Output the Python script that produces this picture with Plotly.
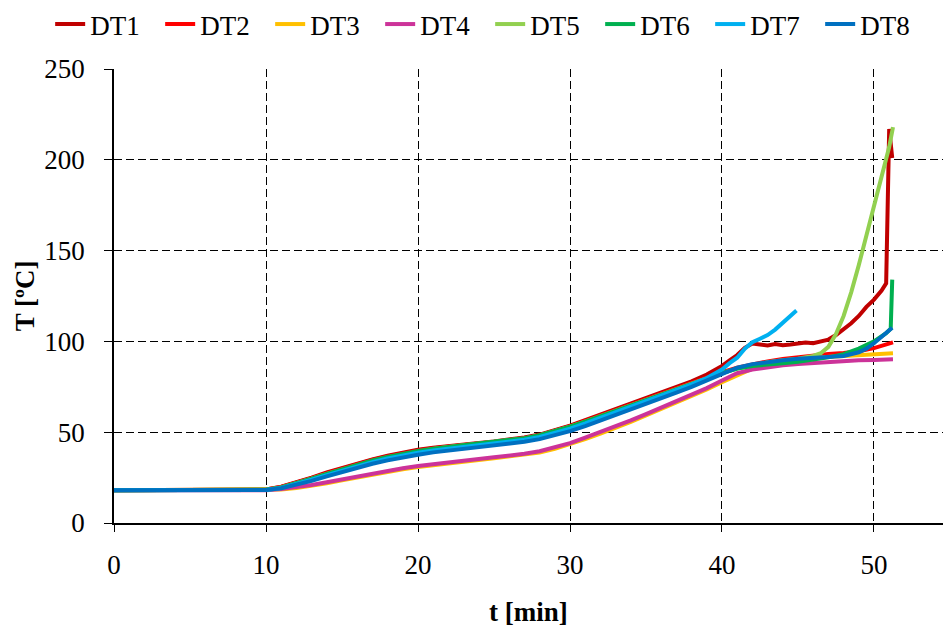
import plotly.graph_objects as go

# ---- data (t in min, T in degC) ----
t_main = [0, 5, 10, 11, 12, 13, 14, 15, 16, 17, 18, 19, 20, 21, 22, 23, 24, 25,
          26, 27, 28, 29, 30, 31, 32, 33, 34, 35, 36, 37, 38, 39, 40]

dt1_t = t_main + [40.5, 41, 41.5, 42, 42.5, 43, 43.5, 44, 44.5, 45, 45.5, 46, 46.5,
                  47, 47.5, 48, 48.5, 49, 49.5, 50, 50.5, 50.8, 51.0, 51.2]
dt1_v = [18, 18, 18.5, 20, 22.3, 25, 27.8, 30.3, 32.8, 35, 37, 38.7, 40.3, 41.5, 42.5,
         43.3, 44.1, 44.9, 45.9, 47.1, 48.7, 51, 53.6, 56.6, 59.6, 62.6, 65.7, 68.7,
         71.7, 74.8, 78, 81.8, 86.5,
         89.5, 92.5, 96.5, 98.8, 98.3, 97.8, 98.5, 97.9, 98.3, 98.6, 99.4, 99, 99.8,
         101, 103.5, 106.5, 110, 114, 119, 123, 128, 132, 217, 201]

dt2_t = t_main + [41, 42, 43, 44, 45, 46, 47, 48, 49, 50, 50.7, 51.25]
dt2_v = [18, 18, 18.4, 19.8, 22, 24.7, 27.5, 30, 32.5, 34.7, 36.7, 38.4, 40, 41.2, 42.2,
         43, 43.8, 44.6, 45.6, 46.8, 48.4, 50.7, 53.3, 56.2, 59.2, 62.2, 65.3, 68.3,
         71.3, 74.3, 77.3, 80.3, 83,
         85.5, 87.5, 89, 90.3, 91.3, 92.2, 93, 93.6, 94.6, 96.3, 97.8, 99.5]

dt3_t = t_main + [41, 42, 43, 44, 45, 46, 47, 48, 49, 50, 51.25]
dt3_v = [18, 18, 18, 18.5, 19.3, 20.5, 21.9, 23.5, 25.1, 26.7, 28.2, 29.6, 30.8, 31.9,
         32.9, 33.8, 34.7, 35.6, 36.5, 37.5, 38.8, 40.8, 43.3, 46.2, 49.2, 52.3, 55.7,
         59.2, 62.7, 66.2, 69.8, 73.5, 77.5,
         81.5, 85, 87.5, 89, 90, 91, 91.5, 92, 92.5, 93, 93.5]

dt4_t = t_main + [41, 42, 43, 44, 45, 46, 47, 48, 49, 50, 51.25]
dt4_v = [18, 18, 18.1, 18.7, 19.6, 20.9, 22.4, 24, 25.6, 27.2, 28.7, 30.1, 31.4, 32.5,
         33.5, 34.4, 35.3, 36.2, 37.1, 38.1, 39.5, 41.5, 44, 47, 50, 53.1, 56.5, 60,
         63.5, 67, 70.6, 74.3, 78.5,
         82.5, 84.5, 85.8, 86.8, 87.6, 88.2, 88.8, 89.3, 89.6, 89.8, 90.2]

dt5_t = t_main + [41, 42, 43, 44, 45, 46, 46.5, 47, 47.5, 48, 48.5, 49, 49.5, 50,
                  50.5, 51, 51.25]
dt5_v = [18, 18, 18.3, 19.6, 21.8, 24.4, 27.1, 29.6, 32, 34.2, 36.2, 37.9, 39.5, 40.8,
         41.8, 42.7, 43.5, 44.4, 45.4, 46.6, 48.2, 50.4, 53, 55.8, 58.7, 61.7, 64.7,
         67.7, 70.7, 73.7, 76.7, 79.7, 82.5,
         85, 87, 88.5, 89.6, 90.5, 92, 93.5, 97, 104, 114, 127, 142, 158, 173, 190,
         207, 218]

dt6_t = t_main + [41, 42, 43, 44, 45, 46, 47, 48, 49, 50, 50.8, 51.1, 51.2]
dt6_v = [18, 18, 18.3, 19.6, 21.8, 24.4, 27.1, 29.7, 32.2, 34.4, 36.4, 38.1, 39.6, 40.9,
         41.9, 42.8, 43.6, 44.5, 45.5, 46.7, 48.3, 50.5, 53, 55.8, 58.7, 61.6, 64.6,
         67.5, 70.5, 73.5, 76.5, 79.5, 82.5,
         85, 86.5, 87.5, 88, 88.8, 90, 91.2, 93, 96, 100, 104.5, 107, 134]

dt7_t = t_main + [40.5, 41, 41.5, 42, 42.5, 43, 43.5, 44, 44.5, 44.9]
dt7_v = [18, 18, 18.2, 19.3, 21.3, 23.8, 26.4, 28.9, 31.3, 33.5, 35.5, 37.2, 38.7, 40,
         41, 41.9, 42.7, 43.6, 44.6, 45.8, 47.4, 49.5, 52, 54.8, 57.8, 60.8, 63.9, 67,
         70, 73, 76.3, 79.8, 84.5,
         88, 91, 96, 99.5, 101.5, 103.5, 106.5, 110.5, 114, 117]

dt8_t = t_main + [41, 42, 43, 44, 45, 46, 47, 48, 49, 49.5, 50, 50.5, 51.2]
dt8_v = [18, 18, 18.2, 19.1, 20.9, 23.2, 25.7, 28.1, 30.4, 32.6, 34.5, 36.2, 37.6, 38.9,
         39.9, 40.8, 41.6, 42.5, 43.5, 44.7, 46.2, 48.2, 50.6, 53.4, 56.4, 59.4, 62.5,
         65.6, 68.7, 71.8, 75, 78.5, 82.3,
         85.5, 87.5, 88.7, 89.6, 90.4, 91, 91.4, 92, 94, 96, 99, 102.5, 107.5]

names = ["DT1", "DT2", "DT3", "DT4", "DT5", "DT6", "DT7", "DT8"]
colors = ["#C00000", "#FF0000", "#FFC000", "#CC3399", "#92D050", "#00B050", "#00B0F0", "#0070C0"]
series_t = [dt1_t, dt2_t, dt3_t, dt4_t, dt5_t, dt6_t, dt7_t, dt8_t]
series_v = [dt1_v, dt2_v, dt3_v, dt4_v, dt5_v, dt6_v, dt7_v, dt8_v]

x_ticks = [0, 10, 20, 30, 40, 50]
y_ticks = [0, 50, 100, 150, 200, 250]

FONT = "Liberation Serif"

fig = go.Figure()
for n, c, tt, vv in zip(names, colors, series_t, series_v):
    fig.add_trace(go.Scatter(x=tt, y=vv, mode="lines", name=n,
                             line=dict(color=c, width=4)))

fig.update_layout(
    width=943, height=631,
    margin=dict(l=114, r=0, t=68, b=108),
    paper_bgcolor="white", plot_bgcolor="white",
    font=dict(family=FONT, size=27, color="black"),
    showlegend=True,
    legend=dict(orientation="h", xref="paper", x=-0.077, xanchor="left",
                yref="paper", y=1.152, yanchor="top",
                font=dict(family=FONT, size=27, color="black"),
                itemwidth=30, tracegroupgap=0, entrywidth=65,
                bgcolor="rgba(0,0,0,0)"),
    xaxis=dict(range=[0, 54.54], tickvals=x_ticks, showgrid=True,
               gridcolor="black", gridwidth=1, griddash="8px,4px",
               showline=True, linecolor="black", linewidth=1.5,
               ticks="outside", ticklen=7, tickcolor="black",
               tickfont=dict(family=FONT, size=27, color="black"),
               ticklabelstandoff=10, zeroline=False),
    yaxis=dict(range=[0, 250], tickvals=y_ticks, showgrid=True,
               gridcolor="black", gridwidth=1, griddash="8px,4px",
               showline=True, linecolor="black", linewidth=1.5,
               ticks="outside", ticklen=8, tickcolor="black",
               tickfont=dict(family=FONT, size=27, color="black"),
               ticklabelstandoff=14, zeroline=False),
    annotations=[
        dict(text="<b>t [min]</b>", xref="paper", yref="paper", x=0.5, y=-0.196,
             xanchor="center", yanchor="middle", showarrow=False,
             font=dict(family=FONT, size=27, color="black")),
        dict(text="<b>T [ºC]</b>", xref="paper", yref="paper", x=-0.107, y=0.5,
             xanchor="center", yanchor="middle", textangle=-90, showarrow=False,
             font=dict(family=FONT, size=27, color="black")),
    ],
)

fig.write_html("out.html")
